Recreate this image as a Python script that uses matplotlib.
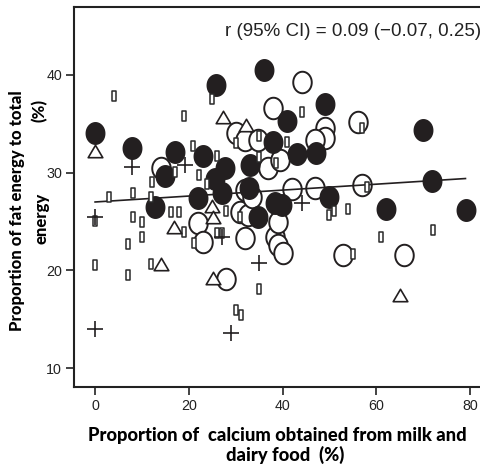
import numpy as np
import matplotlib
matplotlib.use("Agg")
import matplotlib.pyplot as plt
from matplotlib.path import Path
from matplotlib.font_manager import FontProperties

# ---------------- data ----------------
filled_x = [0.0, 7.9, 17.1, 14.9, 12.8, 23.0, 25.8, 36.0, 40.9, 49.0, 43.1, 47.1, 38.0,
            69.9, 71.9, 62.0, 79.1, 49.9, 27.7, 25.6, 27.1, 33.0, 32.8, 38.4, 34.8, 22.0, 39.9]
filled_y = [34.1, 32.5, 32.1, 29.7, 26.5, 31.7, 39.0, 40.5, 35.3, 37.0, 31.9, 32.0, 33.1,
            34.4, 29.1, 26.3, 26.2, 27.5, 30.5, 29.4, 27.9, 30.8, 28.4, 26.9, 25.5, 27.4, 26.7]

open_x = [44.1, 38.0, 30.1, 32.0, 34.8, 49.0, 49.0, 46.9, 56.1, 14.1, 36.9, 39.4, 42.0, 46.9,
          56.9, 30.9, 32.6, 32.0, 22.0, 23.0, 27.9, 38.4, 39.0, 40.1, 39.0, 52.9, 65.9, 32.0, 33.5]
open_y = [39.3, 36.6, 34.1, 33.3, 33.3, 34.6, 33.6, 33.3, 35.2, 30.5, 30.5, 31.3, 28.3, 28.4,
          28.7, 26.0, 25.7, 23.3, 24.8, 22.9, 19.1, 23.4, 22.6, 21.8, 24.9, 21.6, 21.6, 28.2, 27.5]

tri_x = [0.0, 27.3, 32.2, 16.8, 14.1, 25.2, 24.9, 25.2, 65.0]
tri_y = [32.2, 35.7, 34.9, 24.4, 20.7, 19.2, 26.6, 25.5, 17.5]

plus_x = [0.0, 0.0, 7.9, 19.2, 27.1, 44.1, 35.0, 29.0]
plus_y = [25.5, 14.0, 30.6, 30.8, 23.4, 26.9, 20.8, 13.6]

rect_x = [4.1, 19.0, 20.9, 24.9, 44.1, 35.0, 30.1, 40.9, 26.0, 35.0, 56.9, 22.2, 17.1, 12.2,
          3.0, 8.1, 11.9, 0.0, 8.1, 10.0, 10.0, 7.0, 16.2, 17.9, 19.0, 21.1, 0.0, 7.0, 11.9,
          27.9, 26.0, 27.1, 30.9, 35.0, 30.1, 31.1, 49.9, 51.0, 53.9, 61.0, 72.1, 55.0, 58.0,
          23.9, 38.6]
rect_y = [37.8, 35.8, 32.7, 37.5, 36.2, 33.8, 33.0, 33.1, 31.7, 31.6, 34.6, 29.8, 30.1, 29.0,
          27.5, 27.9, 27.5, 25.1, 25.5, 25.0, 23.4, 22.7, 26.0, 26.0, 23.9, 22.8, 20.6, 19.5, 20.7,
          26.1, 23.8, 23.8, 25.5, 18.1, 15.9, 15.4, 25.7, 26.1, 26.3, 23.4, 24.1, 21.7, 28.5,
          28.8, 31.0]

fit_x = [0, 79]
fit_y = [27.0, 29.4]

x_ticks = [0, 20, 40, 60, 80]
y_ticks = [10, 20, 30, 40]

annotation = "r (95% CI) = 0.09 (\u22120.07, 0.25)"
xlabel_1 = "Proportion of  calcium obtained from milk and"
xlabel_2 = "dairy food  (%)"
ylabel_1 = "Proportion of fat energy to total"
ylabel_2a = "energy"
ylabel_2b = "(%)"

# ---------------- fonts ----------------
plt.rcParams['font.family'] = ['Liberation Sans', 'DejaVu Sans']
fp_reg = FontProperties(family=['Liberation Sans', 'DejaVu Sans'])
fp_bold = FontProperties(family=['Lato', 'Liberation Sans', 'DejaVu Sans'], weight='black')

# ---------------- markers ----------------
t = np.linspace(0, 2 * np.pi, 73)
ellipse = Path(np.column_stack([0.86 * np.cos(t), np.sin(t)]), closed=True)
rect = Path([(-0.55, -1), (0.55, -1), (0.55, 1), (-0.55, 1), (-0.55, -1)], closed=True)
tri = Path([(0, 0.85), (-1, -0.85), (1, -0.85), (0, 0.85)], closed=True)

dark = '#231f20'

fig = plt.figure(figsize=(4.8, 4.66), dpi=100)
ax = fig.add_axes([74 / 480, 1 - 387 / 466, 1 - 74 / 480, (387 - 7) / 466])

ax.plot(open_x, open_y, ls='none', marker=ellipse, ms=15.5, mfc='white', mec=dark, mew=1.4, zorder=2)
ax.plot(fit_x, fit_y, color=dark, lw=1.2, zorder=2.5)
ax.plot(filled_x, filled_y, ls='none', marker=ellipse, ms=15.5, mfc=dark, mec=dark, mew=1.0, zorder=3)
ax.plot(rect_x, rect_y, ls='none', marker=rect, ms=6.5, mfc='white', mec='#2a2a2a', mew=1.1, zorder=5)
ax.plot(tri_x, tri_y, ls='none', marker=tri, ms=10.5, mfc='white', mec=dark, mew=1.2, zorder=5)
ax.plot(plus_x, plus_y, ls='none', marker='+', ms=11, mec=dark, mew=1.2, zorder=6)

ax.set_xlim(-4.5, 82.1)
ax.set_ylim(8.06, 46.96)
ax.set_xticks(x_ticks)
ax.set_yticks(y_ticks)
ax.tick_params(direction='out', length=5.5, width=1.2, pad=3, colors='#222222')
for lab in ax.get_xticklabels() + ax.get_yticklabels():
    lab.set_fontproperties(fp_reg)
    lab.set_fontsize(10.3)
for s in ['left', 'bottom', 'top']:
    ax.spines[s].set_linewidth(1.5)
    ax.spines[s].set_color('#222222')
ax.spines['right'].set_visible(False)

fig.text(225 / 480, 1 - 32 / 466, annotation, fontproperties=fp_reg, fontsize=13.5,
         ha='left', va='center', color='#222222')

fig.text(0.577, 1 - 435 / 466, xlabel_1, fontproperties=fp_bold, fontsize=13.2,
         ha='center', va='center')
fig.text(0.594, 1 - 455 / 466, xlabel_2, fontproperties=fp_bold, fontsize=13.2,
         ha='center', va='center')
fig.text(17 / 480, 1 - 211 / 466, ylabel_1, fontproperties=fp_bold, fontsize=12,
         rotation=90, ha='center', va='center')
fig.text(42 / 480, 1 - 218 / 466, ylabel_2a, fontproperties=fp_bold, fontsize=12,
         rotation=90, ha='center', va='center')
fig.text(40 / 480, 1 - 110 / 466, ylabel_2b, fontproperties=fp_bold, fontsize=12,
         rotation=90, ha='center', va='center')

fig.savefig('out.png', dpi=100)
